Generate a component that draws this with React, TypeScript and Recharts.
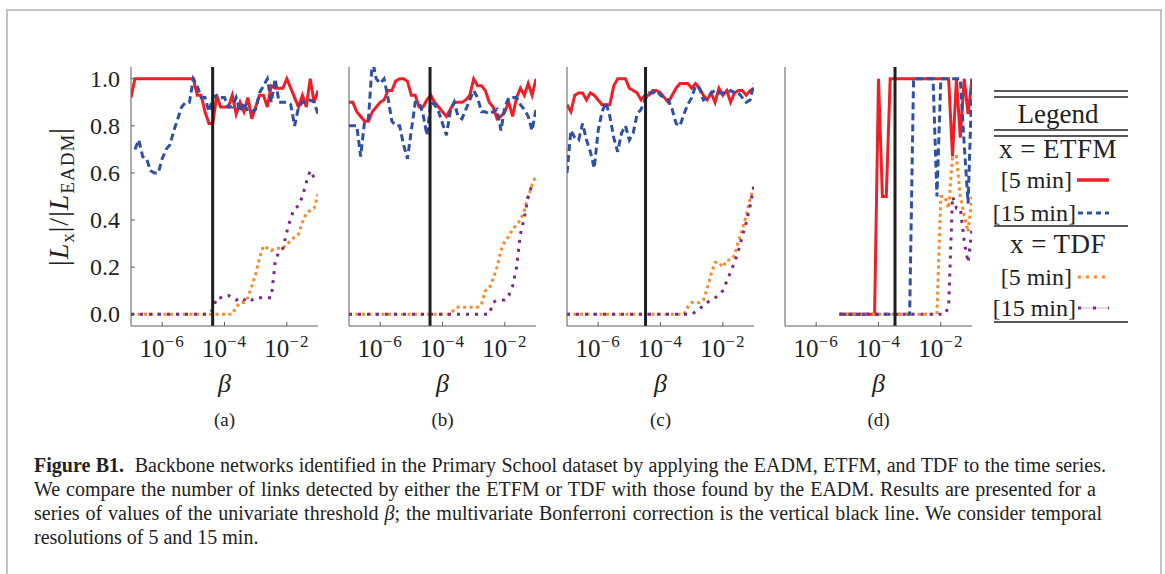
import React from 'react';
import { LineChart, Line, XAxis, YAxis, ReferenceLine } from 'recharts';

// log10(beta) grid shared by every panel
const BETA_EXP = [
  -7, -6.875, -6.75, -6.625, -6.5, -6.375, -6.25, -6.125, -6, -5.875,
  -5.75, -5.625, -5.5, -5.375, -5.25, -5.125, -5, -4.875, -4.75, -4.625,
  -4.5, -4.375, -4.25, -4.125, -4, -3.875, -3.75, -3.625, -3.5, -3.375,
  -3.25, -3.125, -3, -2.875, -2.75, -2.625, -2.5, -2.375, -2.25, -2.125,
  -2, -1.875, -1.75, -1.625, -1.5, -1.375, -1.25, -1.125, -1,
];

const X_TICKS = [-6, -4, -2];
const Y_TICKS_FULL = [0, 0.2, 0.4, 0.6, 0.8, 1.0];
const Y_TICKS_SHORT = [0, 0.5, 1.0];

// 2A
const etfm5_2A = [
  0.92, 1, 1, 1, 1, 1, 1, 1, 1, 1,
  1, 1, 1, 1, 1, 1, 1, 0.93, 0.93, 0.86,
  0.81, 0.81, 0.93, 0.88, 0.88, 0.88, 0.93, 0.85, 0.9, 0.86,
  0.92, 0.83, 0.88, 0.93, 0.93, 0.88, 0.97, 0.96, 0.96, 0.96,
  1, 0.96, 0.92, 0.88, 0.93, 0.88, 1, 0.9, 0.95,
];
const etfm15_2A = [
  null, 0.7, 0.74, 0.67, 0.66, 0.61, 0.6, 0.6, 0.66, 0.7,
  0.72, 0.78, 0.83, 0.88, 0.9, 0.9, 1, 0.97, 0.92, 0.92,
  0.86, 0.92, 0.93, 0.92, 0.92, 0.88, 0.88, 0.92, 0.86, 0.9,
  0.86, 0.86, 0.87, 0.94, 0.97, 1, 0.9, 1, 0.9, 0.9,
  0.9, 0.89, 0.8, 0.88, 0.9, 0.9, 0.91, 0.9, 0.85,
];
const tdf5_2A = [
  0, 0, 0, 0, 0, 0, 0, 0, 0, 0,
  0, 0, 0, 0, 0, 0, 0, 0, 0, 0,
  0, 0, 0, 0, 0, 0, 0, 0.03, 0.05, 0.05,
  0.07, 0.12, 0.17, 0.24, 0.29, 0.28, 0.27, 0.28, 0.28, 0.28,
  0.3, 0.31, 0.33, 0.34, 0.39, 0.43, 0.44, 0.45, 0.51,
];
const tdf15_2A = [
  0, 0, 0, 0, 0, 0, 0, 0, 0, 0,
  0, 0, 0, 0, 0, 0, 0, 0, 0, 0,
  0, 0.02, 0.07, 0.07, 0.08, 0.08, 0.07, 0.06, 0.07, 0.06,
  0.07, 0.06, 0.07, 0.07, 0.07, 0.07, 0.07, 0.22, 0.27, 0.28,
  0.35, 0.41, 0.45, 0.46, 0.5, 0.56, 0.61, 0.58, 0.58,
];

// 3A
const etfm5_3A = [
  0.9, 0.9, 0.86, 0.84, 0.82, 0.82, 0.86, 0.88, 0.9, 0.91,
  0.95, 0.95, 0.99, 1, 1, 0.99, 0.93, 0.93, 0.88, 0.88,
  0.91, 0.93, 0.9, 0.88, 0.86, 0.84, 0.87, 0.9, 0.9, 0.9,
  0.91, 0.93, 1, 0.97, 0.97, 0.95, 0.9, 0.88, 0.83, 0.84,
  0.86, 0.9, 0.84, 0.92, 0.96, 0.93, 0.98, 0.93, 1,
];
const etfm15_3A = [
  0.8, 0.8, 0.8, 0.67, 0.82, 0.83, 1.08, 1, 0.98, 1,
  0.92, 0.82, 0.8, 0.8, 0.72, 0.66, 0.78, 0.9, 0.9, 0.85,
  0.76, 0.9, 0.89, 0.86, 0.81, 0.76, 0.86, 0.9, 0.84, 0.83,
  0.87, 0.91, 0.95, 0.92, 0.86, 0.86, 0.85, 0.86, 0.87, 0.78,
  0.88, 0.92, 0.92, 0.92, 0.89, 0.87, 0.84, 0.78, 0.87,
];
const tdf5_3A = [
  0, 0, 0, 0, 0, 0, 0, 0, 0, 0,
  0, 0, 0, 0, 0, 0, 0, 0, 0, 0,
  0, 0, 0, 0, 0, 0, 0, 0.02, 0.03, 0.03,
  0.03, 0.03, 0.03, 0.03, 0.04, 0.1, 0.11, 0.15, 0.2, 0.27,
  0.31, 0.33, 0.36, 0.38, 0.4, 0.44, 0.5, 0.55, 0.59,
];
const tdf15_3A = [
  0, 0, 0, 0, 0, 0, 0, 0, 0, 0,
  0, 0, 0, 0, 0, 0, 0, 0, 0, 0,
  0, 0, 0, 0, 0, 0, 0, 0, 0, 0,
  0, 0, 0, 0, 0, 0, 0, 0.05, 0.06, 0.06,
  0.06, 0.08, 0.12, 0.2, 0.34, 0.41, 0.5, 0.55, null,
];

// 1B
const etfm5_1B = [
  0.89, 0.86, 0.93, 0.94, 0.94, 0.91, 0.94, 0.93, 0.91, 0.89,
  0.89, 0.89, 0.97, 1, 1, 1, 0.96, 0.95, 0.94, 0.91,
  0.93, 0.93, 0.95, 0.95, 0.94, 0.92, 0.9, 0.93, 0.96, 0.98,
  0.98, 0.98, 0.96, 0.98, 0.96, 0.93, 0.91, 0.94, 0.9, 0.96,
  0.93, 0.95, 0.9, 0.94, 0.95, 0.95, 0.93, 0.95, 0.96,
];
const etfm15_1B = [
  0.6, 0.78, 0.75, 0.74, 0.81, 0.74, 0.69, 0.62, 0.78, 0.86,
  0.9, 0.84, 0.75, 0.69, 0.77, 0.8, 0.74, 0.77, 0.85, 0.87,
  0.91, 0.94, 0.94, 0.95, 0.93, 0.92, 0.91, 0.87, 0.81, 0.8,
  0.85, 0.89, 0.92, 0.97, 0.96, 0.91, 0.92, 0.94, 0.95, 0.94,
  0.94, 0.94, 0.95, 0.94, 0.94, 0.92, 0.9, 0.91, 0.98,
];
const tdf5_1B = [
  0, 0, 0, 0, 0, 0, 0, 0, 0, 0,
  0, 0, 0, 0, 0, 0, 0, 0, 0, 0,
  0, 0, 0, 0, 0, 0, 0, 0, 0, 0,
  0, 0.03, 0.05, 0.05, 0.05, 0.06, 0.11, 0.17, 0.22, 0.22,
  0.2, 0.23, 0.23, 0.25, 0.31, 0.36, 0.42, 0.49, 0.54,
];
const tdf15_1B = [
  0, 0, 0, 0, 0, 0, 0, 0, 0, 0,
  0, 0, 0, 0, 0, 0, 0, 0, 0, 0,
  0, 0, 0, 0, 0, 0, 0, 0, 0, 0,
  0, 0, 0, 0.01, 0.02, 0.04, 0.05, 0.06, 0.07, 0.08,
  0.1, 0.14, 0.18, 0.22, 0.27, 0.33, 0.39, 0.46, 0.55,
];

// Teachers
const etfm5_T = [
  null, null, null, null, null, null, null, null, null, null,
  null, null, null, null, 0, 0, 0, 0, 0, 0,
  0, 0, 0, 0, 1, 0.5, 0.5, 1, 1, 1,
  1, 1, 1, 1, 1, 1, 1, 1, 1, 1,
  1, 1, 1, 0.67, 1, 0.75, 1, 0.85, 1,
];
const etfm15_T = [
  null, null, null, null, null, null, null, null, null, null,
  null, null, null, null, 0, 0, 0, 0, 0, 0,
  0, 0, 0, 0, 0, 0, 0, 0, 0, 0,
  0, 0, 0, 1, 1, 1, 1, 1, 1, 0.5,
  1, 1, 1, 1, 1, 1, 0.72, 0.47, 1,
];
const tdf5_T = [
  null, null, null, null, null, null, null, null, null, null,
  null, null, null, null, 0, 0, 0, 0, 0, 0,
  0, 0, 0, 0, 0, 0, 0, 0, 0, 0,
  0, 0, 0, 0, 0, 0, 0, 0, 0, 0,
  0.5, 0.5, 0.45, 0.67, 0.67, 0.5, 0.42, 0.35, 0.5,
];
const tdf15_T = [
  null, null, null, null, null, null, null, null, null, null,
  null, null, null, null, 0, 0, 0, 0, 0, 0,
  0, 0, 0, 0, 0, 0, 0, 0, 0, 0,
  0, 0, 0, 0, 0, 0, 0, 0, 0, 0,
  0, 0, 0.03, 0.5, 0.45, 0.45, 0.31, 0.22, 0.36,
];

// log10 of the Bonferroni threshold per class
const BONFERRONI = [-4.38, -4.4, -4.48, -3.47];
const TITLES = ['2A', '3A', '1B', 'Teachers'];
const TAGS = ['a', 'b', 'c', 'd'];

const SERIF = '"Liberation Serif", "Times New Roman", serif';
const INK = '#222';
const FRAME = '#5c5c5c';
const RED = '#ee1f26';
const BLUE = '#2f50a5';
const ORANGE = '#f98a2c';
const PURPLE = '#7b2a86';

const PLOT_W = 187;
const PLOT_H = 259;
const TOP = 40;
const BOTTOM = 110;

const panels = [
  { r: etfm5_2A, b: etfm15_2A, o: tdf5_2A, p: tdf15_2A, left: 131 },
  { r: etfm5_3A, b: etfm15_3A, o: tdf5_3A, p: tdf15_3A, left: 349 },
  { r: etfm5_1B, b: etfm15_1B, o: tdf5_1B, p: tdf15_1B, left: 567 },
  { r: etfm5_T, b: etfm15_T, o: tdf5_T, p: tdf15_T, left: 785 },
];

const PowTick = (props: any) => {
  const { x, y, payload } = props;
  return (
    <text x={x} y={y + 17} textAnchor="middle" fontSize={25} fill={INK} fontFamily={SERIF}>
      10
      <tspan dy={-10} fontSize={17} letterSpacing={1}>
        −{Math.abs(payload.value)}
      </tspan>
    </text>
  );
};

const ValTick = (props: any) => {
  const { x, y, payload } = props;
  return (
    <text x={x} y={y + 8} textAnchor="end" fontSize={24} fill={INK} fontFamily={SERIF}>
      {Number(payload.value).toFixed(1)}
    </text>
  );
};

function Panel({ idx }: { idx: number }) {
  const d = panels[idx];
  const showY = idx === 0;
  const yw = showY ? 110 : 10;
  const rows = BETA_EXP.map((e, i) => ({ e, r: d.r[i], b: d.b[i], o: d.o[i], p: d.p[i] }));
  const cx = yw + PLOT_W / 2;

  return (
    <div style={{ position: 'absolute', left: d.left - yw, top: 67 - TOP }}>
      <LineChart
        width={yw + PLOT_W + 5}
        height={TOP + PLOT_H + BOTTOM}
        data={rows}
        margin={{ top: TOP, right: 5, bottom: 0, left: 0 }}
      >
        <XAxis
          xAxisId="b"
          dataKey="e"
          type="number"
          domain={[-7, -1]}
          ticks={X_TICKS}
          allowDataOverflow
          height={BOTTOM}
          tickSize={-4}
          tickMargin={18}
          stroke={FRAME}
          tick={PowTick}
          label={() => (
            <g>
              <text x={cx} y={TOP + PLOT_H + 66} textAnchor="middle" fontSize={26} fontStyle="italic" fill={INK} fontFamily={SERIF}>
                β
              </text>
              <text x={cx} y={TOP + PLOT_H + 100} textAnchor="middle" fontSize={19} fill={INK} fontFamily={SERIF}>
                ({TAGS[idx]})
              </text>
            </g>
          )}
        />
        <XAxis
          xAxisId="t"
          orientation="top"
          dataKey="e"
          type="number"
          domain={[-7, -1]}
          ticks={X_TICKS}
          allowDataOverflow
          height={0}
          tickSize={-4}
          tick={false}
          stroke={FRAME}
          label={() => (
            <text x={cx} y={TOP - 8} textAnchor="middle" fontSize={27} fill={INK} fontFamily={SERIF}>
              {TITLES[idx]}
            </text>
          )}
        />
        <YAxis
          yAxisId="l"
          type="number"
          domain={[-0.05, 1.05]}
          ticks={showY ? Y_TICKS_FULL : Y_TICKS_SHORT}
          allowDataOverflow
          width={yw}
          tickSize={-4}
          tickMargin={15}
          stroke={FRAME}
          tick={showY ? ValTick : false}
          label={
            showY
              ? () => (
                  <text
                    x={47}
                    y={TOP + PLOT_H / 2}
                    transform={`rotate(-90, 47, ${TOP + PLOT_H / 2})`}
                    textAnchor="middle"
                    fontSize={28}
                    letterSpacing={1}
                    fill={INK}
                    fontFamily={SERIF}
                  >
                    |<tspan fontStyle="italic">L</tspan>
                    <tspan dy={6} fontSize={19}>x</tspan>
                    <tspan dy={-6}>|/|</tspan>
                    <tspan fontStyle="italic">L</tspan>
                    <tspan dy={6} fontSize={19}>EADM</tspan>
                    <tspan dy={-6}>|</tspan>
                  </text>
                )
              : undefined
          }
        />
        <YAxis
          yAxisId="r"
          orientation="right"
          type="number"
          domain={[-0.05, 1.05]}
          ticks={showY ? Y_TICKS_FULL : Y_TICKS_SHORT}
          allowDataOverflow
          width={0}
          tickSize={-4}
          tick={false}
          stroke={FRAME}
        />
        <Line xAxisId="b" yAxisId="l" type="linear" dataKey="r" stroke={RED} strokeWidth={3} dot={false} isAnimationActive={false} />
        <Line xAxisId="b" yAxisId="l" type="linear" dataKey="b" stroke={BLUE} strokeWidth={3} strokeDasharray="7 4" dot={false} isAnimationActive={false} />
        <Line xAxisId="b" yAxisId="l" type="linear" dataKey="o" stroke={ORANGE} strokeWidth={3} strokeDasharray="3 3.5" dot={false} isAnimationActive={false} />
        <Line xAxisId="b" yAxisId="l" type="linear" dataKey="p" stroke={PURPLE} strokeWidth={3} strokeDasharray="3 6" dot={false} isAnimationActive={false} />
        <ReferenceLine xAxisId="b" yAxisId="l" x={BONFERRONI[idx]} stroke="#1e1e1e" strokeWidth={3} />
      </LineChart>
    </div>
  );
}

function LegendTable() {
  const t = { fontFamily: SERIF, fill: INK } as const;
  const rule = (y: number) => <line x1={994} x2={1128} y1={y} y2={y} stroke="#222" strokeWidth={1.3} />;
  return (
    <svg width={1165} height={574} style={{ position: 'absolute', left: 0, top: 0, pointerEvents: 'none' }}>
      {rule(91)}
      {rule(97)}
      <text x={1058} y={123} textAnchor="middle" fontSize={27} {...t}>Legend</text>
      {rule(130)}
      {rule(136)}
      <text x={1058} y={158} textAnchor="middle" fontSize={27} letterSpacing={0.5} {...t}>x = ETFM</text>
      <text x={1072} y={188} textAnchor="end" fontSize={24} {...t}>[5 min]</text>
      <line x1={1077} x2={1109} y1={180} y2={180} stroke={RED} strokeWidth={3.5} />
      <text x={1076} y={221} textAnchor="end" fontSize={24} {...t}>[15 min]</text>
      <line x1={1078} x2={1109} y1={213} y2={213} stroke={BLUE} strokeWidth={3} strokeDasharray="5 4" />
      {rule(226)}
      <text x={1058} y={253} textAnchor="middle" fontSize={27} letterSpacing={0.5} {...t}>x = TDF</text>
      <text x={1072} y={285} textAnchor="end" fontSize={24} {...t}>[5 min]</text>
      <line x1={1078} x2={1109} y1={277} y2={277} stroke={ORANGE} strokeWidth={3} strokeDasharray="3 5" />
      <text x={1076} y={316} textAnchor="end" fontSize={24} {...t}>[15 min]</text>
      <line x1={1078} x2={1109} y1={308} y2={308} stroke={PURPLE} strokeWidth={0.6} opacity={0.6} />
      <line x1={1078} x2={1109} y1={308} y2={308} stroke={PURPLE} strokeWidth={3} strokeDasharray="3 12" />
      {rule(322)}
    </svg>
  );
}

const lineStyle: React.CSSProperties = {
  position: 'absolute',
  left: 34,
  width: 1072,
  whiteSpace: 'nowrap',
  textAlign: 'justify',
  textAlignLast: 'justify',
  fontSize: 20,
  lineHeight: '24px',
};

function Caption() {
  return (
    <div style={{ fontFamily: SERIF, color: INK }}>
      <div style={{ ...lineStyle, top: 453 }}>
        <b>Figure B1.</b>&nbsp; Backbone networks identified in the Primary School dataset by applying the EADM, ETFM, and TDF to the time series.
      </div>
      <div style={{ ...lineStyle, top: 477, width: 1062 }}>
        We compare the number of links detected by either the ETFM or TDF with those found by the EADM. Results are presented for a
      </div>
      <div style={{ ...lineStyle, top: 501, width: 1068 }}>
        series of values of the univariate threshold <i>β</i>; the multivariate Bonferroni correction is the vertical black line. We consider temporal
      </div>
      <div style={{ ...lineStyle, top: 525, textAlign: 'left', textAlignLast: 'left' }}>
        resolutions of 5 and 15 min.
      </div>
    </div>
  );
}

export default function App() {
  return (
    <div style={{ position: 'absolute', left: 0, top: 0, width: 1165, height: 574, background: '#fff', overflow: 'hidden' }}>
      <div
        style={{
          position: 'absolute',
          left: 6,
          top: 9,
          width: 1156,
          height: 640,
          border: '2px solid #c2c2c2',
          boxSizing: 'border-box',
        }}
      />
      {panels.map((_, i) => (
        <Panel key={i} idx={i} />
      ))}
      <LegendTable />
      <Caption />
    </div>
  );
}
